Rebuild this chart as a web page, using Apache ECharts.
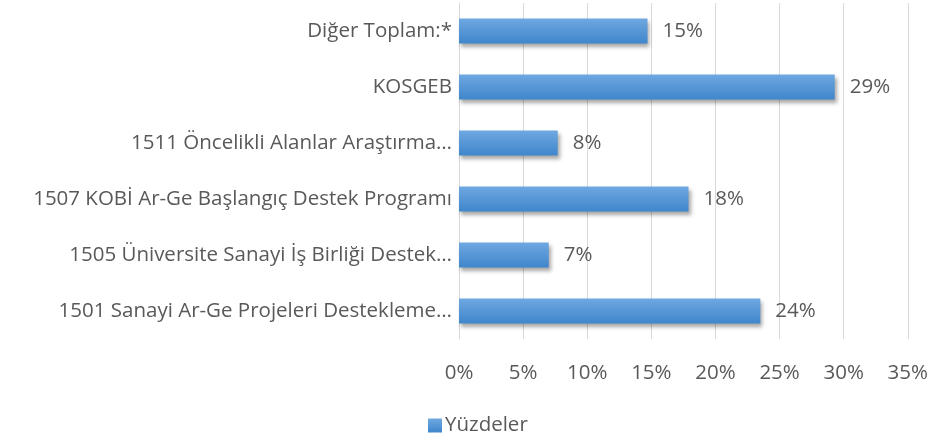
<!DOCTYPE html>
<html><head><meta charset="utf-8">
<script src="https://cdn.jsdelivr.net/npm/echarts@6/dist/echarts.min.js"></script>
<style>html,body{margin:0;padding:0;background:#fff}#c{width:931px;height:436px}</style>
</head><body><div id="c"></div>
<script>
var categories = [
  "1501 Sanayi Ar-Ge Projeleri Destekleme…",
  "1505 Üniversite Sanayi İş Birliği Destek…",
  "1507 KOBİ Ar-Ge Başlangıç Destek Programı",
  "1511 Öncelikli Alanlar Araştırma…",
  "KOSGEB",
  "Diğer Toplam:*"
];
var values = [23.5, 7.0, 17.9, 7.7, 29.3, 14.7];
var seriesName = "Yüzdeler";
var xTicks = [0, 5, 10, 15, 20, 25, 30, 35];

var font = "Open Sans";
var fs = 20.5;
var chart = echarts.init(document.getElementById('c'));
chart.setOption({
  animation: false,
  grid: {left: 459, right: 23, top: 3, bottom: 97, containLabel: false},
  legend: {
    data: [seriesName], bottom: 0, left: 428, padding: 0,
    itemWidth: 14, itemHeight: 14, itemGap: 4,
    icon: 'rect',
    textStyle: {fontFamily: font, fontSize: fs, color: '#595959', padding: [0,0,0,-2]}
  },
  xAxis: {
    type: 'value', min: xTicks[0], max: xTicks[xTicks.length-1], interval: 5,
    axisLabel: {formatter: '{value}%', fontFamily: font, fontSize: fs, color: '#595959', margin: 24},
    axisLine: {show: false}, axisTick: {show: false},
    splitLine: {show: true, lineStyle: {color: '#d9d9d9', width: 1}}
  },
  yAxis: {
    type: 'category', data: categories,
    axisLabel: {fontFamily: font, fontSize: fs, color: '#595959', margin: 7},
    axisLine: {show: true, lineStyle: {color: '#d9d9d9', width: 1}},
    axisTick: {show: false}
  },
  series: [{
    name: seriesName, type: 'bar', data: values, barWidth: 25,
    itemStyle: {
      color: new echarts.graphic.LinearGradient(0, 0, 0, 1, [
        {offset: 0, color: '#6fa8e0'}, {offset: 1, color: '#3f86cc'}
      ]),
      shadowBlur: 4, shadowOffsetX: 2, shadowOffsetY: 3, shadowColor: 'rgba(0,0,0,0.35)'
    },
    label: {
      show: true, position: 'right', distance: 15,
      formatter: function(p){ return Math.round(p.value) + '%'; },
      fontFamily: font, fontSize: fs, color: '#595959'
    }
  }]
});
</script></body></html>
